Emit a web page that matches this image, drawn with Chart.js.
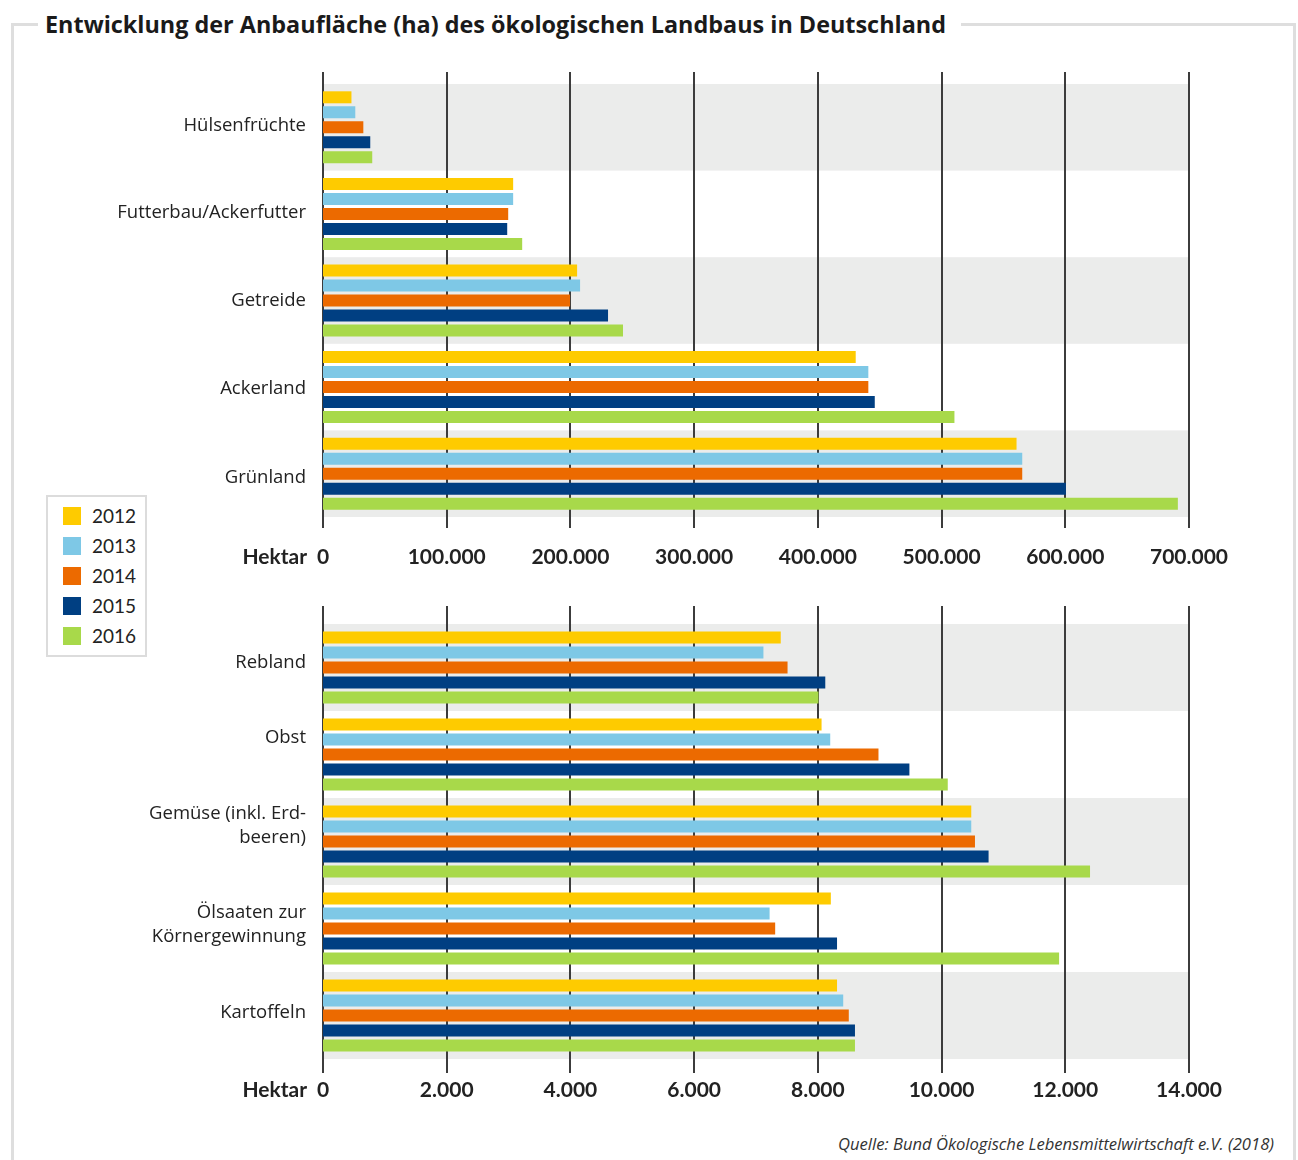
<!DOCTYPE html>
<html>
<head>
<meta charset="utf-8">
<script src="https://cdn.jsdelivr.net/npm/chart.js@4/dist/chart.umd.min.js"></script>
<style>
  html, body { margin: 0; padding: 0; background: #fff; }
  body { width: 1298px; height: 1160px; position: relative; overflow: hidden; font-family: Lato, "Open Sans", sans-serif; color: #222; }
  #frame { position: absolute; left: 11px; top: 23px; width: 1285px; height: 1200px; border: 3px solid #dedede; box-sizing: border-box; }
  #title { position: absolute; left: 38px; top: 9px; height: 30px; line-height: 30px; padding: 0 15px 0 7px; background: #fff; font-family: "Open Sans", Lato, sans-serif; font-weight: bold; font-size: 23.4px; color: #1a1a1a; white-space: nowrap; }
  .wrap { position: absolute; left: 0; width: 1298px; height: 520px; }
  #w1 { top: 60px; }
  #w2 { top: 590px; }
  #legend { position: absolute; left: 46px; top: 495px; width: 101px; height: 162px; border: 2px solid #dcdcdc; box-sizing: border-box; padding-top: 4px; background: #fff; }
  .li { height: 30px; line-height: 30px; font-size: 19px; color: #222; position: relative; }
  .li span.sw { position: absolute; left: 15px; top: 6px; width: 18px; height: 18px; }
  .li span.tx { position: absolute; left: 44px; top: 0; }
  #source { position: absolute; right: 24px; top: 1134px; line-height: 20px; font-family: "Open Sans", Lato, sans-serif; font-size: 16.6px; font-style: italic; color: #333; white-space: nowrap; }
</style>
</head>
<body>
<div id="frame"></div>
<div id="title">Entwicklung der Anbaufläche (ha) des ökologischen Landbaus in Deutschland</div>
<div class="wrap" id="w1"><canvas id="c1"></canvas></div>
<div class="wrap" id="w2"><canvas id="c2"></canvas></div>
<div id="legend"></div>
<div id="source">Quelle: Bund Ökologische Lebensmittelwirtschaft e.V. (2018)</div>
<script>
// ---------- DATA ----------
const years = ['2012', '2013', '2014', '2015', '2016'];

const categoriesTop = ['Hülsenfrüchte', 'Futterbau/Ackerfutter', 'Getreide', 'Ackerland', 'Grünland'];
const top2012 = [23000, 153700, 205400, 430600, 560600];
const top2013 = [26100, 153700, 207800, 440800, 565200];
const top2014 = [32600, 149700, 199700, 440800, 565200];
const top2015 = [38200, 148900, 230400, 446000, 600500];
const top2016 = [39800, 161000, 242500, 510400, 691000];
const topTickLabels = ['0', '100.000', '200.000', '300.000', '400.000', '500.000', '600.000', '700.000'];

const categoriesBottom = ['Rebland', 'Obst', ['Gemüse (inkl. Erd-', 'beeren)'], ['Ölsaaten zur', 'Körnergewinnung'], 'Kartoffeln'];
const bot2012 = [7400, 8060, 10480, 8210, 8310];
const bot2013 = [7120, 8200, 10480, 7220, 8410];
const bot2014 = [7510, 8980, 10540, 7310, 8500];
const bot2015 = [8120, 9480, 10760, 8310, 8600];
const bot2016 = [8010, 10100, 12400, 11900, 8600];
const bottomTickLabels = ['0', '2.000', '4.000', '6.000', '8.000', '10.000', '12.000', '14.000'];

const axisTitle = 'Hektar';

// ---------- STYLE ----------
const colors = ['#fecb00', '#7ec8e6', '#ec6a00', '#003f82', '#a8d94a'];
const bandColor = '#ebeceb';
const gridColor = '#3c3c3c';
const FONT = 'Lato, "Open Sans", sans-serif';
const LABEL_FONT = '"Open Sans", Lato, sans-serif';

// legend (HTML)
const legendEl = document.getElementById('legend');
years.forEach((y, i) => {
  const d = document.createElement('div');
  d.className = 'li';
  d.innerHTML = '<span class="sw" style="background:' + colors[i] + '"></span><span class="tx">' + y + '</span>';
  legendEl.appendChild(d);
});

const decor = {
  id: 'decor',
  beforeDatasetsDraw(chart, args, o) {
    const { ctx, chartArea: a, scales: { x, y } } = chart;
    const n = y.ticks.length;
    ctx.save();
    for (let i = 0; i < n; i++) {
      if (i % 2 !== 0) continue;
      const t = y.getPixelForValue(i - 0.5);
      const b = y.getPixelForValue(i + 0.5);
      ctx.fillStyle = bandColor;
      ctx.fillRect(a.left, t, a.right - a.left, b - t);
    }
    ctx.strokeStyle = gridColor;
    ctx.lineWidth = 2;
    x.ticks.forEach(tk => {
      const px = Math.round(x.getPixelForValue(tk.value));
      ctx.beginPath();
      ctx.moveTo(px, a.top - o.extTop);
      ctx.lineTo(px, a.bottom + o.extBottom);
      ctx.stroke();
    });
    ctx.restore();
  },
  afterDraw(chart, args, o) {
    const { ctx, chartArea: a, scales: { y } } = chart;
    ctx.save();
    ctx.fillStyle = '#222';
    ctx.textAlign = 'right';
    ctx.textBaseline = 'middle';
    ctx.font = '18.5px ' + LABEL_FONT;
    const labels = chart.data.labels;
    labels.forEach((lab, i) => {
      const lines = Array.isArray(lab) ? lab : [lab];
      const c = y.getPixelForTick(i) + (o.shift[i] || 0);
      const lh = 24;
      lines.forEach((ln, k) => {
        ctx.fillText(ln, a.left - 17, c - (lines.length - 1) * lh / 2 + k * lh);
      });
    });
    ctx.font = 'bold 21px ' + FONT;
    ctx.textBaseline = 'top';
    ctx.fillText(axisTitle, a.left - 16, a.bottom + o.tickPad + 2);
    ctx.restore();
  }
};

function makeChart(id, labels, series, max, step, tickLabels, opt) {
  return new Chart(document.getElementById(id), {
    type: 'bar',
    data: {
      labels: labels,
      datasets: series.map((s, i) => ({
        label: years[i],
        data: s,
        backgroundColor: colors[i],
        borderWidth: 0,
        categoryPercentage: opt.catPct,
        barPercentage: 0.8
      }))
    },
    options: {
      indexAxis: 'y',
      responsive: true,
      maintainAspectRatio: false,
      animation: false,
      layout: { padding: { top: opt.padTop, right: 109, left: 0, bottom: 0 } },
      plugins: {
        legend: { display: false },
        tooltip: { enabled: false },
        decor: { extTop: opt.extTop, extBottom: opt.extBottom, shift: opt.shift, tickPad: opt.tickPad }
      },
      scales: {
        x: {
          min: 0, max: max,
          grid: { display: false, drawTicks: false },
          border: { display: false },
          ticks: {
            stepSize: step,
            padding: opt.tickPad,
            color: '#222',
            font: { family: FONT, size: 21, weight: 'bold' },
            maxRotation: 0,
            autoSkip: false,
            callback: (v, i) => tickLabels[i]
          },
          afterFit: s => { s.height = opt.xHeight; }
        },
        y: {
          grid: { display: false, drawTicks: false },
          border: { display: false },
          ticks: { display: false },
          afterFit: s => { s.width = 323; }
        }
      }
    },
    plugins: [decor]
  });
}

makeChart('c1', categoriesTop, [top2012, top2013, top2014, top2015, top2016], 700000, 100000, topTickLabels,
  { padTop: 24, xHeight: 63, catPct: 0.866, extTop: 12, extBottom: 11, tickPad: 28, shift: [-2, -1, 0, 2, 4] });
makeChart('c2', categoriesBottom, [bot2012, bot2013, bot2014, bot2015, bot2016], 14000, 2000, bottomTickLabels,
  { padTop: 34, xHeight: 51, catPct: 0.863, extTop: 18, extBottom: 14, tickPad: 19, shift: [-5, -17, -16, -4, -3] });
</script>
</body>
</html>
